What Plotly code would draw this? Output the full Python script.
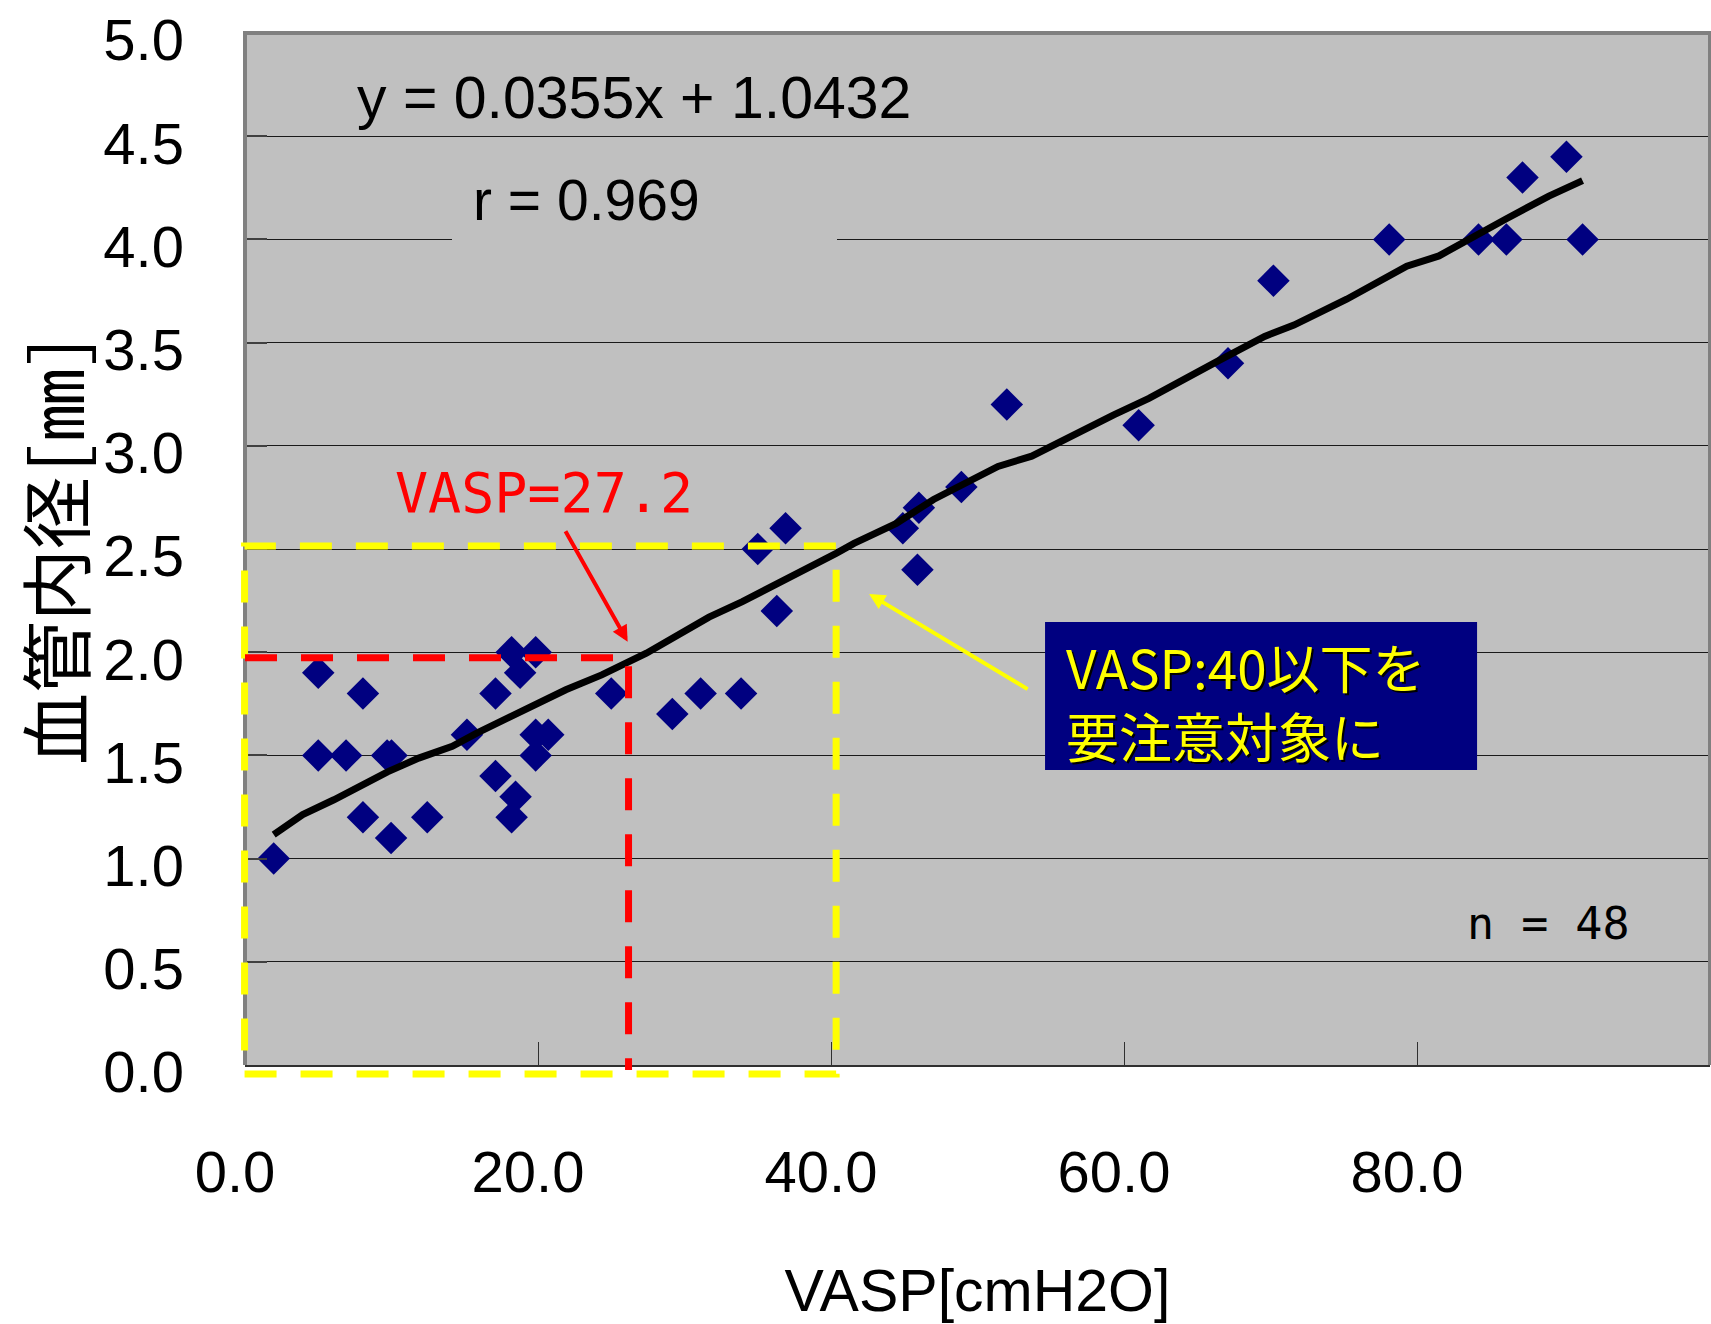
import plotly.graph_objects as go

# ---------------- data ----------------
vasp = [1.96, 5.0, 5.0, 6.9, 8.05, 8.05, 9.7, 10.0, 9.97, 12.44,
        15.15, 17.1, 17.1, 18.2, 19.84, 18.78, 18.47, 18.2, 19.84, 20.7,
        19.84, 25.0, 29.17, 31.1, 33.86, 35.0, 36.9, 36.3, 44.9, 46.0,
        45.9, 48.9, 52.0, 61.0, 67.1, 70.2, 78.1, 84.2, 86.1, 87.2,
        90.2, 91.3]
diameter = [1.0, 1.9, 1.5, 1.5, 1.8, 1.2, 1.5, 1.5, 1.1, 1.2,
            1.6, 1.8, 1.4, 2.0, 2.0, 1.9, 1.3, 1.2, 1.6, 1.6,
            1.5, 1.8, 1.7, 1.8, 1.8, 2.5, 2.6, 2.2, 2.6, 2.7,
            2.4, 2.8, 3.2, 3.1, 3.4, 3.8, 4.0, 4.0, 4.0, 4.3,
            4.4, 4.0]

# drawn regression line (vertices)
trend_x = [1.96, 3.94, 6.07, 9.73, 11.86, 14.15, 15.82, 21.9, 24.35, 27.4,
           31.67, 33.95, 40.35, 41.57, 44.46, 47.0, 51.4, 53.7, 59.3, 61.7,
           66.4, 69.6, 71.6, 75.2, 79.3, 81.5, 86.1, 89.0, 91.3]
trend_y = [1.116, 1.213, 1.285, 1.42, 1.487, 1.544, 1.608, 1.818, 1.89, 1.995,
           2.17, 2.245, 2.479, 2.527, 2.624, 2.74, 2.90, 2.95, 3.15, 3.23,
           3.41, 3.53, 3.585, 3.71, 3.87, 3.92, 4.10, 4.21, 4.285]

x_tickvals = [0, 20, 40, 60, 80]
X_RANGE = [0, 100]
Y_RANGE = [0, 5]

# annotation guides
VASP_MARK = 26.18      # red vertical guide
VASP_MARK_Y = 1.973    # red horizontal guide
LIMIT_X = 40.35        # yellow box right edge
LIMIT_Y = 2.515        # yellow box top edge
NOTE_BOX = dict(x0=54.61, x1=84.1, y0=1.429, y1=2.146)   # navy note box

SANS = "Liberation Sans, Arial, sans-serif"
MONO = "DejaVu Sans Mono, Liberation Mono, monospace"
CJK = "Noto Sans CJK JP, Noto Sans CJK SC, sans-serif"
CJK_MONO = "Noto Sans Mono CJK JP, Noto Sans CJK JP, sans-serif"


def px(x):
    return (x - X_RANGE[0]) / (X_RANGE[1] - X_RANGE[0])


def py(y):
    return (y - Y_RANGE[0]) / (Y_RANGE[1] - Y_RANGE[0])


fig = go.Figure()
fig.add_trace(go.Scatter(
    x=vasp, y=diameter, mode="markers",
    marker=dict(symbol="diamond", size=25, color="#000080", line=dict(width=0)),
    hoverinfo="x+y"))
fig.add_trace(go.Scatter(
    x=trend_x, y=trend_y, mode="lines",
    line=dict(color="#000000", width=7), hoverinfo="skip"))

shapes = [
    # plot-area border (top, left, right)
    dict(type="path", xref="paper", yref="paper", path="M0,0 L0,1 L1,1 L1,0",
         line=dict(color="#808080", width=4), layer="above"),
    # yellow dashed box (VASP <= 40)
    dict(type="rect", xref="paper", yref="paper",
         x0=px(-0.03), x1=px(LIMIT_X), y0=py(-0.044), y1=py(LIMIT_Y),
         line=dict(color="#FFFF00", width=7, dash="32px,24px"), layer="above"),
    # red dashed guide
    dict(type="path", xref="paper", yref="paper",
         path=f"M{px(0)},{py(VASP_MARK_Y)} L{px(VASP_MARK)},{py(VASP_MARK_Y)} L{px(VASP_MARK)},{py(-0.024)}",
         line=dict(color="#FF0000", width=7, dash="32px,24px"), layer="above"),
    # navy note box
    dict(type="rect", xref="x", yref="y", **NOTE_BOX,
         fillcolor="#000080", line=dict(width=0), layer="above"),
]

annotations = [
    dict(text="y = 0.0355x + 1.0432", x=7.5, y=4.685, xref="x", yref="y",
         xanchor="left", yanchor="middle", showarrow=False,
         font=dict(family=SANS, size=59, color="#000000")),
    dict(text="r = 0.969", x=14.13, y=4.19, xref="x", yref="y",
         xanchor="left", yanchor="middle", showarrow=False, align="left",
         width=343, height=58, borderpad=21, borderwidth=0, bgcolor="#C0C0C0",
         font=dict(family=SANS, size=57, color="#000000")),
    dict(text="n = 48", x=83.3, y=0.688, xref="x", yref="y",
         xanchor="left", yanchor="middle", showarrow=False,
         font=dict(family=MONO, size=45, color="#000000")),
    dict(text="VASP=27.2", x=10.1, y=2.77, xref="x", yref="y",
         xanchor="left", yanchor="middle", showarrow=False,
         font=dict(family=MONO, size=55, color="#FF0000")),
    dict(text="VASP:40以下を<br>要注意対象に", x=55.9, y=1.768, xref="x", yref="y",
         xanchor="left", yanchor="middle", showarrow=False, align="left",
         font=dict(family=CJK, size=53, color="#FFFF00", shadow="2px 2px 0px #000000")),
    # red arrow
    dict(text="", x=26.12, y=2.051, xref="x", yref="y", ax=-63, ay=-112,
         showarrow=True, arrowhead=2, arrowsize=0.8, arrowwidth=4,
         arrowcolor="#FF0000", standoff=0),
    # yellow arrow
    dict(text="", x=42.6, y=2.282, xref="x", yref="y", ax=160, ay=96,
         showarrow=True, arrowhead=2, arrowsize=0.8, arrowwidth=4,
         arrowcolor="#FFFF00", standoff=0),
]

fig.update_layout(
    width=1711, height=1324,
    margin=dict(l=245, r=1, t=33, b=259, pad=0),
    plot_bgcolor="#C0C0C0", paper_bgcolor="#FFFFFF",
    showlegend=False,
    shapes=shapes, annotations=annotations,
    xaxis=dict(
        range=X_RANGE, tickvals=x_tickvals, tickformat=".1f",
        ticks="inside", ticklen=23, tickwidth=1, tickcolor="#303030",
        showgrid=False, zeroline=False,
        showline=True, linecolor="#303030", linewidth=2,
        tickfont=dict(family=SANS, size=58, color="#000000"),
        ticklabelstandoff=55, ticklabelshift=-10, ticklabeloverflow="allow",
        automargin=True,
        title=dict(text="VASP[cmH2O]", standoff=75,
                   font=dict(family=SANS, size=59, color="#000000")),
    ),
    yaxis=dict(
        range=Y_RANGE, tick0=0, dtick=0.5, tickformat=".1f",
        ticks="inside", ticklen=22, tickwidth=2, tickcolor="#404040",
        showgrid=True, gridcolor="#1a1a1a", gridwidth=1, zeroline=False,
        showline=False,
        tickfont=dict(family=SANS, size=58, color="#000000"),
        ticklabelstandoff=60, ticklabelshift=7, ticklabeloverflow="allow",
        automargin=True,
        title=dict(text="血管内径[mm]", standoff=45,
                   font=dict(family=CJK_MONO, size=72, color="#000000")),
    ),
)

fig.write_html("out.html", config={"displayModeBar": False},
               post_script="document.body.style.margin='0';document.body.style.overflow='hidden';")
